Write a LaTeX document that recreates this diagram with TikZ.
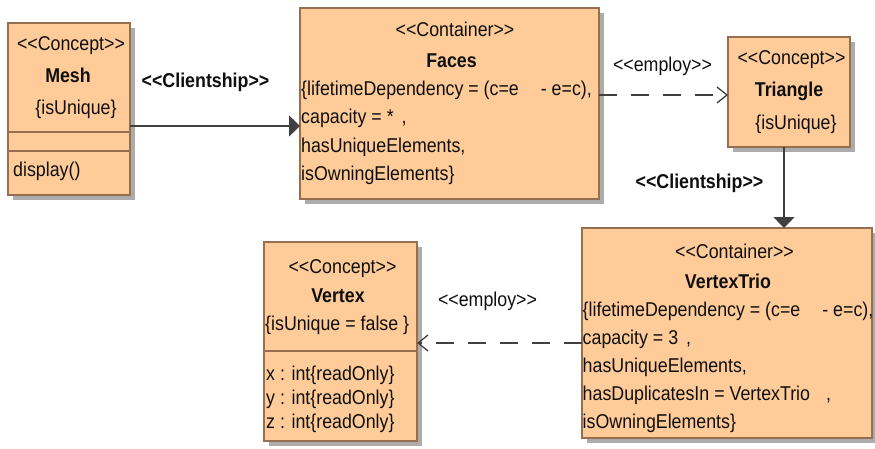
\documentclass[tikz,border=0pt]{standalone}
\usepackage{fontspec}
\setmainfont{Liberation Sans}[Ligatures=TeXOff, FakeStretch=0.89]
\usetikzlibrary{arrows.meta,shadows}
\definecolor{boxfill}{RGB}{255,204,153}
\definecolor{boxline}{RGB}{150,110,80}
\definecolor{shadowc}{RGB}{172,172,172}
\definecolor{conn}{RGB}{64,64,64}
\definecolor{txt}{RGB}{15,15,15}
\begin{document}
\begin{tikzpicture}[x=1pt,y=-1pt,
  umlbox/.style={draw=boxline, fill=boxfill, line width=1.3pt, inner sep=0pt, outer sep=0pt,
    drop shadow={shadow xshift=5pt, shadow yshift=-5pt, fill=shadowc, opacity=1}},
  sepline/.style={draw=boxline, line width=1.3pt},
  lbl/.style={font=\fontsize{20}{24}\selectfont, text=txt, inner sep=0pt, anchor=base},
  lblw/.style={lbl, anchor=base west},
  ttl/.style={lbl, font=\fontsize{20}{24}\selectfont\bfseries},
  solidarrow/.style={draw=conn, line width=1.3pt, -{Triangle[length=11pt,width=21pt]}},
  dasharrow/.style={draw=conn, line width=1.3pt, dash pattern=on 18pt off 14pt, -{Straight Barb[length=10pt,width=16pt]}}
]
\useasboundingbox (0,0) rectangle (875,449);

% boxes
\node[umlbox, minimum width=122pt, minimum height=172pt] (mesh) at (69,109) {};
\node[umlbox, minimum width=299pt, minimum height=191pt] (faces) at (449.5,103.5) {};
\node[umlbox, minimum width=122pt, minimum height=110pt] (tri) at (789,92) {};
\node[umlbox, minimum width=290pt, minimum height=210pt] (vtrio) at (727,333) {};
\node[umlbox, minimum width=153pt, minimum height=199pt] (vertex) at (340.5,341.5) {};

% separators
\draw[sepline] ([yshift=-23pt]mesh.west) -- ([yshift=-23pt]mesh.east);
\draw[sepline] ([yshift=-42pt]mesh.west) -- ([yshift=-42pt]mesh.east);
\draw[sepline] ([yshift=-9.5pt]vertex.west) -- ([yshift=-9.5pt]vertex.east);

% Mesh texts
\node[lbl] (meshst) at (71,51) {<<Concept>>};
\node[ttl] (meshnm) at (68,83) {Mesh};
\node[lbl] (meshcn) at (76,115) {\{isUnique\}};
\node[lblw] (meshop) at (13,177) {display()};

% Faces texts
\node[lbl] (facesst) at (455,36.5) {<<Container>>};
\node[ttl] (facesnm) at (451.5,68) {Faces};
\node[lblw] (faces1) at (301,96) {\{lifetimeDependency = (c=e\hspace{22pt}- e=c),};
\node[lblw] (faces2) at (301,124) {capacity = *\hspace{8pt},};
\node[lblw] (faces3) at (301,152.5) {hasUniqueElements,};
\node[lblw] (faces4) at (301,181) {isOwningElements\}};

% Triangle texts
\node[lbl] (trist) at (791.5,65) {<<Concept>>};
\node[ttl] (trinm) at (789,97) {Triangle};
\node[lbl] (tricn) at (796,130) {\{isUnique\}};

% VertexTrio texts
\node[lbl] (vtst) at (734.5,258) {<<Container>>};
\node[ttl] (vtnm) at (728,288) {VertexTrio};
\node[lblw] (vt1) at (582.5,316) {\{lifetimeDependency = (c=e\hspace{22pt}- e=c),};
\node[lblw] (vt2) at (582.5,344) {capacity = 3\hspace{8pt},};
\node[lblw] (vt3) at (582.5,372) {hasUniqueElements,};
\node[lblw] (vt4) at (582.5,400) {hasDuplicatesIn = VertexTrio\hspace{16pt},};
\node[lblw] (vt5) at (582.5,428) {isOwningElements\}};

% Vertex texts
\node[lbl] (vxst) at (342.5,273) {<<Concept>>};
\node[ttl] (vxnm) at (338,302) {Vertex};
\node[lblw] (vxcn) at (265,330) {\{isUnique = false \}};
\node[lblw] (vxa1) at (266,380) {x : int\{readOnly\}};
\node[lblw] (vxa2) at (266,404) {y : int\{readOnly\}};
\node[lblw] (vxa3) at (266,428) {z : int\{readOnly\}};

% connectors
\draw[solidarrow] ([yshift=-17pt]mesh.east) -- ([yshift=-17pt]mesh.east -| faces.west);
\draw[dasharrow] ([yshift=8.5pt]faces.east) -- ([yshift=8.5pt]faces.east -| tri.west);
\draw[solidarrow] ([xshift=-5pt]tri.south) -- ([xshift=-5pt]tri.south |- vtrio.north);
\draw[dasharrow] ([yshift=-10pt]vtrio.west) -- ([yshift=-10pt]vtrio.west -| vertex.east);

% connector labels
\node[ttl] (cl1) at (205.5,88) {<<Clientship>>};
\node[lbl] (em1) at (662.5,72) {<<employ>>};
\node[ttl] (cl2) at (699.5,189) {<<Clientship>>};
\node[lbl] (em2) at (487.5,306) {<<employ>>};
\end{tikzpicture}
\end{document}
